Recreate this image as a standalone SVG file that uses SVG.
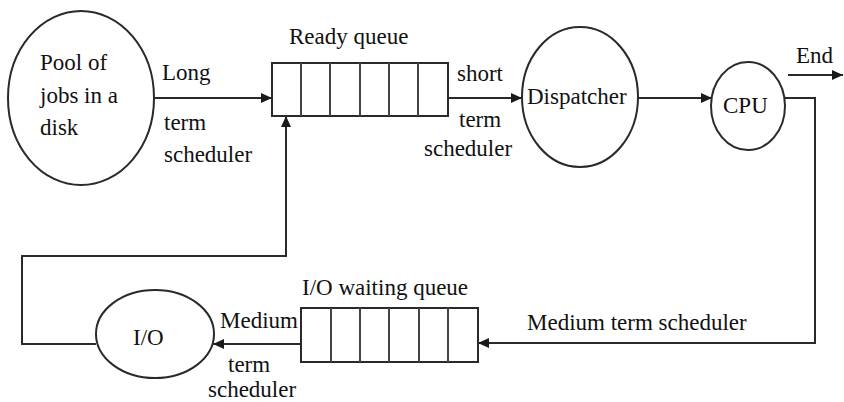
<svg xmlns="http://www.w3.org/2000/svg" width="844" height="402" viewBox="0 0 844 402">
<defs>
<marker id="ah" markerUnits="userSpaceOnUse" markerWidth="12" markerHeight="10" refX="11" refY="5" orient="auto">
<path d="M0,0 L11,5 L0,10 z" fill="#1a1a1a"/>
</marker>
</defs>
<rect width="844" height="402" fill="#fff"/>
<g id="connectors" fill="none" stroke="#2a2a2a" stroke-width="2">
<line x1="155" y1="98" x2="272" y2="98" marker-end="url(#ah)"/>
<line x1="448" y1="98" x2="522" y2="98" marker-end="url(#ah)"/>
<line x1="638" y1="98" x2="712" y2="98" marker-end="url(#ah)"/>
<line x1="788" y1="75" x2="843" y2="75" marker-end="url(#ah)"/>
<polyline points="785,98 815,98 815,343 478,343" marker-end="url(#ah)"/>
<line x1="301" y1="344" x2="213" y2="344" marker-end="url(#ah)"/>
<polyline points="96,344 22,344 22,256 286,256 286,116" marker-end="url(#ah)"/>
</g>
<g id="labels" font-family="Liberation Serif" font-size="23" fill="#111">
<text x="162" y="80">Long</text>
<text x="164" y="130">term</text>
<text x="164" y="162">scheduler</text>
<text x="457" y="81">short</text>
<text x="459" y="127">term</text>
<text x="424" y="156">scheduler</text>
<text x="796" y="63">End</text>
<text x="527" y="330">Medium term scheduler</text>
<text x="220" y="328">Medium</text>
<text x="228" y="372">term</text>
<text x="208" y="397">scheduler</text>
</g>
<g id="pool">
<ellipse cx="81" cy="98" rx="73" ry="87" fill="#fff" stroke="#2a2a2a" stroke-width="2"/>
<text x="40" y="70" font-family="Liberation Serif" font-size="23" fill="#111">Pool of</text>
<text x="40" y="103" font-family="Liberation Serif" font-size="23" fill="#111">jobs in a</text>
<text x="40" y="135" font-family="Liberation Serif" font-size="23" fill="#111">disk</text>
</g>
<g id="ready-queue">
<rect x="272" y="63" width="176" height="53" fill="#fff" stroke="#2a2a2a" stroke-width="2"/>
<g stroke="#444" stroke-width="2">
<line x1="301" y1="63" x2="301" y2="116"/>
<line x1="330" y1="63" x2="330" y2="116"/>
<line x1="360" y1="63" x2="360" y2="116"/>
<line x1="389" y1="63" x2="389" y2="116"/>
<line x1="418" y1="63" x2="418" y2="116"/>
</g>
<text x="289" y="44" font-family="Liberation Serif" font-size="23" fill="#111">Ready queue</text>
</g>
<g id="dispatcher">
<ellipse cx="580" cy="97" rx="58" ry="70" fill="#fff" stroke="#2a2a2a" stroke-width="2"/>
<text x="527" y="104" font-family="Liberation Serif" font-size="23" fill="#111">Dispatcher</text>
</g>
<g id="cpu">
<ellipse cx="748" cy="106" rx="37" ry="44" fill="#fff" stroke="#2a2a2a" stroke-width="2"/>
<text x="723" y="113" font-family="Liberation Serif" font-size="23" fill="#111">CPU</text>
</g>
<g id="io-waiting-queue">
<rect x="301" y="308" width="177" height="54" fill="#fff" stroke="#2a2a2a" stroke-width="2"/>
<g stroke="#444" stroke-width="2">
<line x1="331" y1="308" x2="331" y2="362"/>
<line x1="360" y1="308" x2="360" y2="362"/>
<line x1="389" y1="308" x2="389" y2="362"/>
<line x1="419" y1="308" x2="419" y2="362"/>
<line x1="448" y1="308" x2="448" y2="362"/>
</g>
<text x="302" y="295" font-family="Liberation Serif" font-size="23" fill="#111">I/O waiting queue</text>
</g>
<g id="io">
<ellipse cx="155" cy="334" rx="59" ry="44" fill="#fff" stroke="#2a2a2a" stroke-width="2"/>
<text x="133" y="345" font-family="Liberation Serif" font-size="23" fill="#111">I/O</text>
</g>
</svg>
